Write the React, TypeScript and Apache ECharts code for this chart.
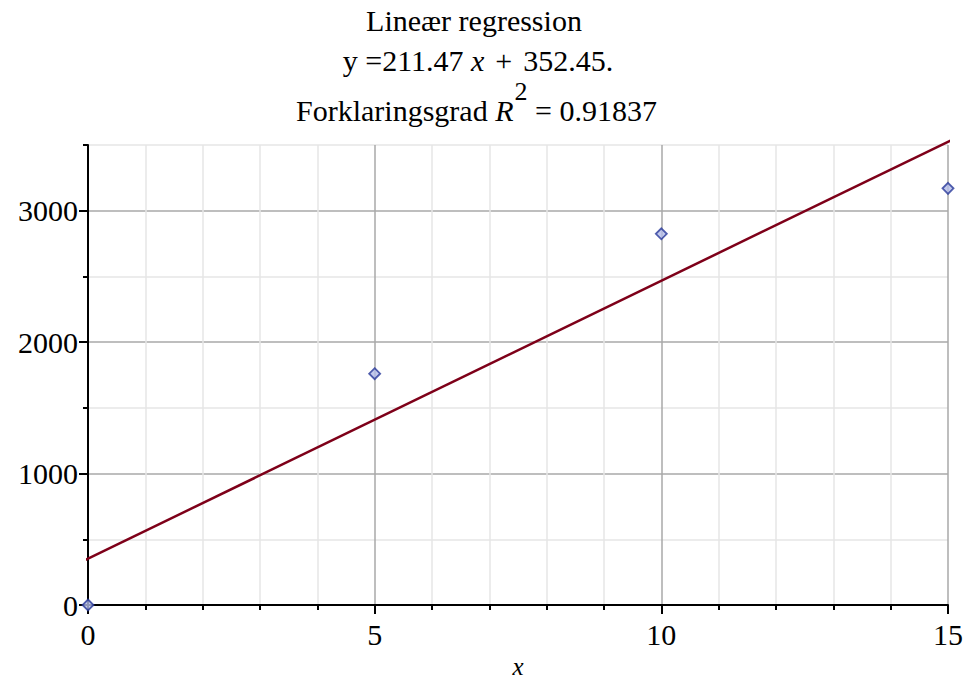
import React, { useEffect, useRef } from "react";
import * as echarts from "echarts";

const xValues = [0, 5, 10, 15];
const yValues = [0, 1760, 2824, 3170];
const slope = 211.47;
const intercept = 352.45;
const rSquared = 0.91837;
const lineRange = [-0.1, 15.15];
const xTicks = { min: 0, max: 15, interval: 5 };
const yTicks = { min: 0, max: 3500, minorInterval: 500, majorMax: 3000, majorInterval: 1000 };

const FONT = "Liberation Serif, Times New Roman, serif";
const FS = 30;

const GRID = { left: 88, right: 18, top: 145, bottom: 76 };

function measure(text: string, font: string): number {
  const c = document.createElement("canvas").getContext("2d");
  if (!c) return text.length * FS * 0.5;
  c.font = font;
  return c.measureText(text).width;
}

export default function App() {
  const ref = useRef<HTMLDivElement>(null);
  useEffect(() => {
    if (!ref.current) return;
    const chart = echarts.init(ref.current, null, { renderer: "svg" });

    const plotH = 681 - GRID.top - GRID.bottom;
    const grid2Top = GRID.top + ((yTicks.max - yTicks.majorMax) / yTicks.max) * plotH;

    const points = xValues.map((x, i) => [x, yValues[i]]);
    const linePts = lineRange.map((x) => [x, intercept + slope * x]);

    const normalFont = `${FS}px ${FONT}`;
    const italicFont = `italic ${FS}px ${FONT}`;
    const supFS = 26;
    const partA = "Forklaringsgrad ";
    const partR = "R";
    const partSup = "2";
    const partC = " = " + rSquared.toFixed(5);
    const wA = measure(partA, normalFont);
    const wR = measure(partR, italicFont);
    const wS = measure(partSup, `${supFS}px ${FONT}`);
    const gap = 1;
    const x0 = 296;

    const textStyle = (extra: any) => ({
      fill: "#000",
      fontFamily: FONT,
      fontSize: FS,
      align: "left",
      textAlign: "left",
      verticalAlign: "middle",
      textVerticalAlign: "middle",
      ...extra,
    });

    const option: any = {
      animation: false,
      backgroundColor: "#fff",
      textStyle: { fontFamily: FONT },
      grid: [
        { left: GRID.left, right: GRID.right, top: GRID.top, bottom: GRID.bottom, containLabel: false, outerBoundsMode: "none" },
        { left: GRID.left, right: GRID.right, top: grid2Top, bottom: GRID.bottom, containLabel: false, outerBoundsMode: "none" },
      ],
      xAxis: [
        {
          type: "value",
          gridIndex: 0,
          min: xTicks.min,
          max: xTicks.max,
          interval: xTicks.interval,
          axisLine: { show: true, onZero: false, lineStyle: { color: "#000", width: 2 } },
          axisTick: { show: true, length: 9, lineStyle: { color: "#000", width: 2 } },
          minorTick: { show: true, splitNumber: 5, length: 5, lineStyle: { color: "#000", width: 2 } },
          splitLine: { show: true, lineStyle: { color: "#a8a8a8", width: 1.5 } },
          minorSplitLine: { show: true, lineStyle: { color: "#e6e6e6", width: 1.5 } },
          axisLabel: { color: "#000", fontFamily: FONT, fontSize: FS, margin: 14, formatter: (v: number) => String(v) },
          name: "x",
          nameLocation: "middle",
          nameGap: 49,
          nameTextStyle: { color: "#000", fontFamily: FONT, fontSize: 25, fontStyle: "italic" },
        },
        {
          type: "value",
          gridIndex: 1,
          min: xTicks.min,
          max: xTicks.max,
          show: false,
        },
      ],
      yAxis: [
        {
          type: "value",
          gridIndex: 0,
          min: yTicks.min,
          max: yTicks.max,
          interval: yTicks.minorInterval,
          axisLine: { show: true, onZero: false, lineStyle: { color: "#000", width: 2 } },
          axisTick: { show: true, length: 5, lineStyle: { color: "#000", width: 2 } },
          splitLine: { show: true, lineStyle: { color: ["#a8a8a8", "#e6e6e6"], width: 1.5 } },
          axisLabel: { show: false },
        },
        {
          type: "value",
          gridIndex: 1,
          min: yTicks.min,
          max: yTicks.majorMax,
          interval: yTicks.majorInterval,
          axisLine: { show: false },
          axisTick: { show: true, length: 9, lineStyle: { color: "#000", width: 2 } },
          splitLine: { show: false },
          axisLabel: { color: "#000", fontFamily: FONT, fontSize: FS, margin: 10, formatter: (v: number) => String(v) },
        },
      ],
      series: [
        {
          type: "line",
          xAxisIndex: 0,
          yAxisIndex: 0,
          data: linePts,
          clip: false,
          showSymbol: false,
          symbol: "none",
          lineStyle: { color: "#7e0019", width: 2.5 },
          z: 3,
        },
        {
          type: "scatter",
          xAxisIndex: 0,
          yAxisIndex: 0,
          data: points,
          clip: false,
          symbol: "diamond",
          symbolSize: 11,
          itemStyle: { color: "#b4bde8", borderColor: "#28389a", borderWidth: 1.8 },
          z: 4,
        },
      ],
      graphic: [
        {
          type: "text",
          x: 474,
          y: 20,
          style: textStyle({ text: "Lineær regression", align: "center", textAlign: "center" }),
        },
        {
          type: "text",
          x: 478,
          y: 60,
          style: textStyle({
            text: `y =${slope.toFixed(2)} {i|x}{s| }+{s| }${intercept.toFixed(2)}.`,
            align: "center",
            textAlign: "center",
            rich: {
              i: { fontFamily: FONT, fontSize: FS, fontStyle: "italic", fill: "#000" },
              s: { fontFamily: FONT, fontSize: 44, fill: "#000" },
            },
          }),
        },
        {
          type: "text",
          x: x0,
          y: 110,
          style: textStyle({ text: partA }),
        },
        {
          type: "text",
          x: x0 + wA,
          y: 110,
          style: textStyle({ text: partR, fontStyle: "italic" }),
        },
        {
          type: "text",
          x: x0 + wA + wR + gap,
          y: 91,
          style: textStyle({ text: partSup, fontSize: supFS }),
        },
        {
          type: "text",
          x: x0 + wA + wR + gap + wS,
          y: 110,
          style: textStyle({ text: partC }),
        },
      ],
    };
    chart.setOption(option);
    return () => chart.dispose();
  }, []);
  return (
    <div
      ref={ref}
      style={{ position: "fixed", left: 0, top: 0, width: 966, height: 681 }}
    />
  );
}
